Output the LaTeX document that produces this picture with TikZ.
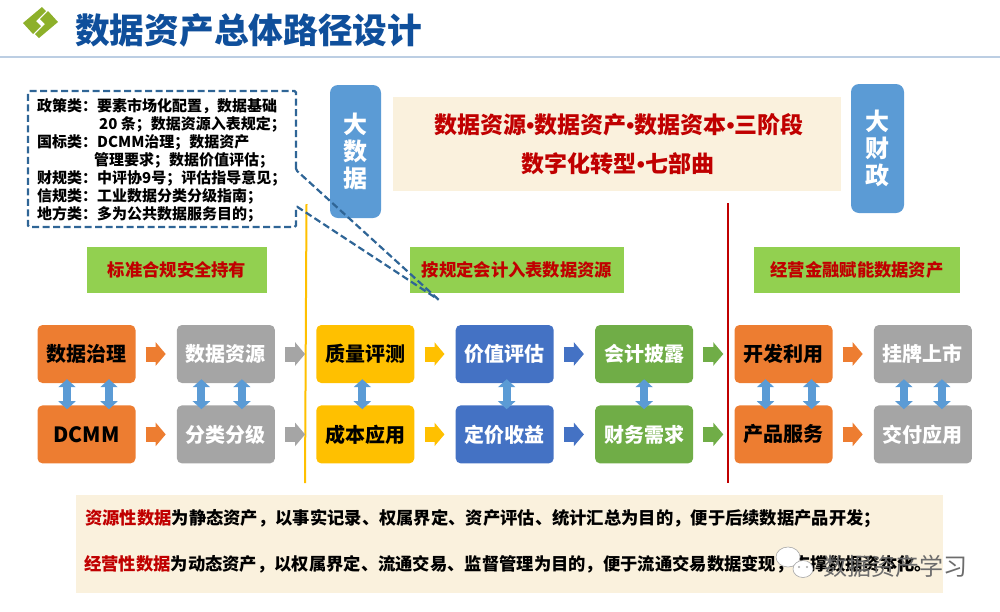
\documentclass[tikz,border=0pt]{standalone}
\usepackage{fontspec}
\setmainfont{Noto Sans CJK SC}
\newfontfamily\dotfont{Liberation Sans}
\usepackage{tikz}
\usetikzlibrary{positioning,arrows.meta}
\definecolor{panelbg}{HTML}{FAF1DD}
\definecolor{titleblue}{HTML}{0F4F9B}
\definecolor{dashblue}{HTML}{2F6596}
\definecolor{skyblue}{HTML}{5B9BD5}
\definecolor{darkred}{HTML}{C00000}
\definecolor{leafgreen}{HTML}{92D050}
\definecolor{logogreen}{HTML}{8DB02A}
\definecolor{boxorange}{HTML}{ED7D31}
\definecolor{boxgray}{HTML}{A5A5A5}
\definecolor{boxyellow}{HTML}{FFC000}
\definecolor{boxblue}{HTML}{4472C4}
\definecolor{boxgreen}{HTML}{70AD47}
\newcommand{\fsize}[1]{\fontsize{#1}{#1}\selectfont}
\newcommand{\middot}{{\dotfont•}}

\begin{document}
\begin{tikzpicture}[
  x=1pt,y=-1pt,
  stage/.style={rounded corners=5pt,minimum width=98pt,minimum height=58pt,
                inner sep=0pt,font=\fsize{20}\bfseries},
  orangebox/.style={stage,fill=boxorange,text=black},
  graybox/.style={stage,fill=boxgray,text=white},
  yellowbox/.style={stage,fill=boxyellow,text=black},
  bluebox/.style={stage,fill=boxblue,text=white},
  greenbox/.style={stage,fill=boxgreen,text=white},
  tag/.style={fill=leafgreen,minimum height=46pt,inner sep=0pt,
              text=darkred,font=\fsize{17.3}\bfseries},
  pillar/.style={fill=skyblue,rounded corners=8pt,inner sep=0pt,
                 align=center,text=white,font=\fontsize{24}{27.3}\selectfont\bfseries},
  panel/.style={fill=panelbg,inner sep=0pt},
  flow/.style={-{Triangle[length=10pt,width=23pt]},line width=15pt,
               shorten <=10pt,shorten >=11pt},
  twoway/.style={{Triangle[length=8pt,width=17pt]}-{Triangle[length=8pt,width=17pt]},
                 line width=8pt,skyblue,shorten <=-4pt,shorten >=-4pt},
  divider/.style={line width=2pt},
  bubble/.style={fill=white,draw=gray!70,line width=.6pt}
]
\useasboundingbox (0,0) rectangle (1000,611);

% header
\fill[logogreen] (42,7) -- (46,11) -- (36,21) -- (41,26) -- (33,34) -- (23,23) -- cycle;
\fill[logogreen] (39,38) -- (35,34) -- (45,24) -- (40,19) -- (48,11) -- (58,22) -- cycle;
\node[anchor=west,inner sep=0pt,text=titleblue,font=\fsize{34.7}\bfseries] (title)
  at (75,30) {数据资产总体路径设计};
\coordinate (ruleL) at (0,56.5);
\coordinate (ruleR) at (1000,56.5);
\draw[line width=2pt,color=titleblue!28!white] (ruleL) -- (ruleR);

% top panel
\node[panel,minimum width=448pt,minimum height=94pt] (stages) at (617,144) {};
\node[text=darkred,font=\fsize{23}\bfseries,inner sep=0pt] (stagesA) at (619,125)
  {数据资源\middot 数据资产\middot 数据资本\middot 三阶段};
\node[text=darkred,font=\fsize{23}\bfseries,inner sep=0pt] (stagesB) at (618,164)
  {数字化转型\middot 七部曲};
\node[pillar,minimum width=51pt,minimum height=133pt] (bigdata) at (355.5,151.5) {大\\数\\据};
\node[pillar,minimum width=53pt,minimum height=129pt] (bigfin) at (877.5,148.5) {大\\财\\政};

% tags
\node[tag,minimum width=180pt] (tagA) at (177,270) {标准合规安全持有};
\node[tag,minimum width=214pt] (tagB) at (517,270) {按规定会计入表数据资源};
\node[tag,minimum width=206pt] (tagC) at (857,270) {经营金融赋能数据资产};

% dividers
\coordinate (yellowT) at (306.5,204);
\coordinate (yellowB) at (305,483);
\coordinate (redT) at (727.5,203);
\coordinate (redB) at (727.5,483);
\draw[divider,boxyellow] (yellowT) -- (yellowB);
\draw[divider,darkred] (redT) -- (redB);

% stages
\node[orangebox] (gov) at (86.5,354) {数据治理};
\node[graybox,right=41pt of gov] (res) {数据资源};
\node[yellowbox,right=41pt of res] (qual) {质量评测};
\node[bluebox,right=41pt of qual] (val) {价值评估};
\node[greenbox,right=41pt of val] (acc) {会计披露};
\node[orangebox,right=41pt of acc] (dev) {开发利用};
\node[graybox,right=41pt of dev] (list) {挂牌上市};
\node[orangebox,below=22pt of gov,font=\fsize{21}\bfseries] (dcmm) {DCMM};
\node[graybox,below=22pt of res] (cls) {分类分级};
\node[yellowbox,below=22pt of qual] (cost) {成本应用};
\node[bluebox,below=22pt of val] (price) {定价收益};
\node[greenbox,below=22pt of acc] (fin) {财务需求};
\node[orangebox,below=22pt of dev] (prod) {产品服务};
\node[graybox,below=22pt of list] (deliv) {交付应用};

\foreach \u/\v/\c in {gov/res/boxorange,res/qual/boxgray,qual/val/boxyellow,
                      val/acc/boxblue,acc/dev/boxgreen,dev/list/boxorange,
                      dcmm/cls/boxorange,cls/cost/boxgray,cost/price/boxyellow,
                      price/fin/boxblue,fin/prod/boxgreen,prod/deliv/boxorange}
  {\draw[flow,\c] (\u) -- (\v);}

\foreach \u/\v/\d in {gov/dcmm/-19.5,gov/dcmm/22.5,res/cls/-24.5,res/cls/16,
                      qual/cost/-3,val/price/2,acc/fin/0,
                      dev/prod/-18,dev/prod/28,list/deliv/-19,list/deliv/19}
  {\draw[twoway] ([xshift=\d pt]\u.south) -- ([xshift=\d pt]\v.north);}

% note
\node[anchor=north west,inner sep=0pt,align=left,font=\fontsize{15}{18}\selectfont\bfseries] (policy)
  at (37,98) {\makebox[60pt][l]{政策类：}要素市场化配置，数据基础\\
  \hspace*{62pt}20 条；数据资源入表规定；\\
  \makebox[60pt][l]{国标类：}DCMM治理；数据资产\\
  \hspace*{57pt}管理要求；数据价值评估；\\
  \makebox[60pt][l]{财规类：}中评协9号；评估指导意见；\\
  \makebox[60pt][l]{信规类：}工业数据分类分级指南；\\
  \makebox[60pt][l]{地方类：}多为公共数据服务目的；};
\coordinate (noteTip) at (439,300);
\draw[dash pattern=on 7pt off 3.5pt,line width=2.2pt,dashblue,rounded corners=1.5pt]
  (296,170) -- (296,91) -- (28,91) -- (28,227) -- (296,227) -- (296,206) -- (noteTip) -- cycle;

% bottom panel
\node[panel,minimum width=867pt,minimum height=98pt] (notes) at (509.5,544) {};
\node[anchor=west,inner sep=0pt,font=\fsize{17.3}\bfseries] (noteA) at (85,519)
  {\textcolor{darkred}{资源性数据}为静态资产，以事实记录、权属界定、资产评估、统计汇总为目的，便于后续数据产品开发；};
\node[anchor=west,inner sep=0pt,font=\fsize{17.3}\bfseries] (noteB) at (84,564)
  {\textcolor{darkred}{经营性数据}为动态资产，以权属界定、流通交易、监督管理为目的，便于流通交易数据变现，支撑数据资本化。};

% watermark
\draw[bubble] (788,557) ellipse [x radius=12,y radius=10];
\draw[bubble] (803,569) ellipse [x radius=10,y radius=8.5];
\fill[gray!70] (799,567) circle (1.2) (807,567) circle (1.2);
\node[anchor=west,inner sep=0pt,text=gray!85!black,font=\fsize{24}] (mark) at (823,566) {数据资产学习};
\end{tikzpicture}
\end{document}
